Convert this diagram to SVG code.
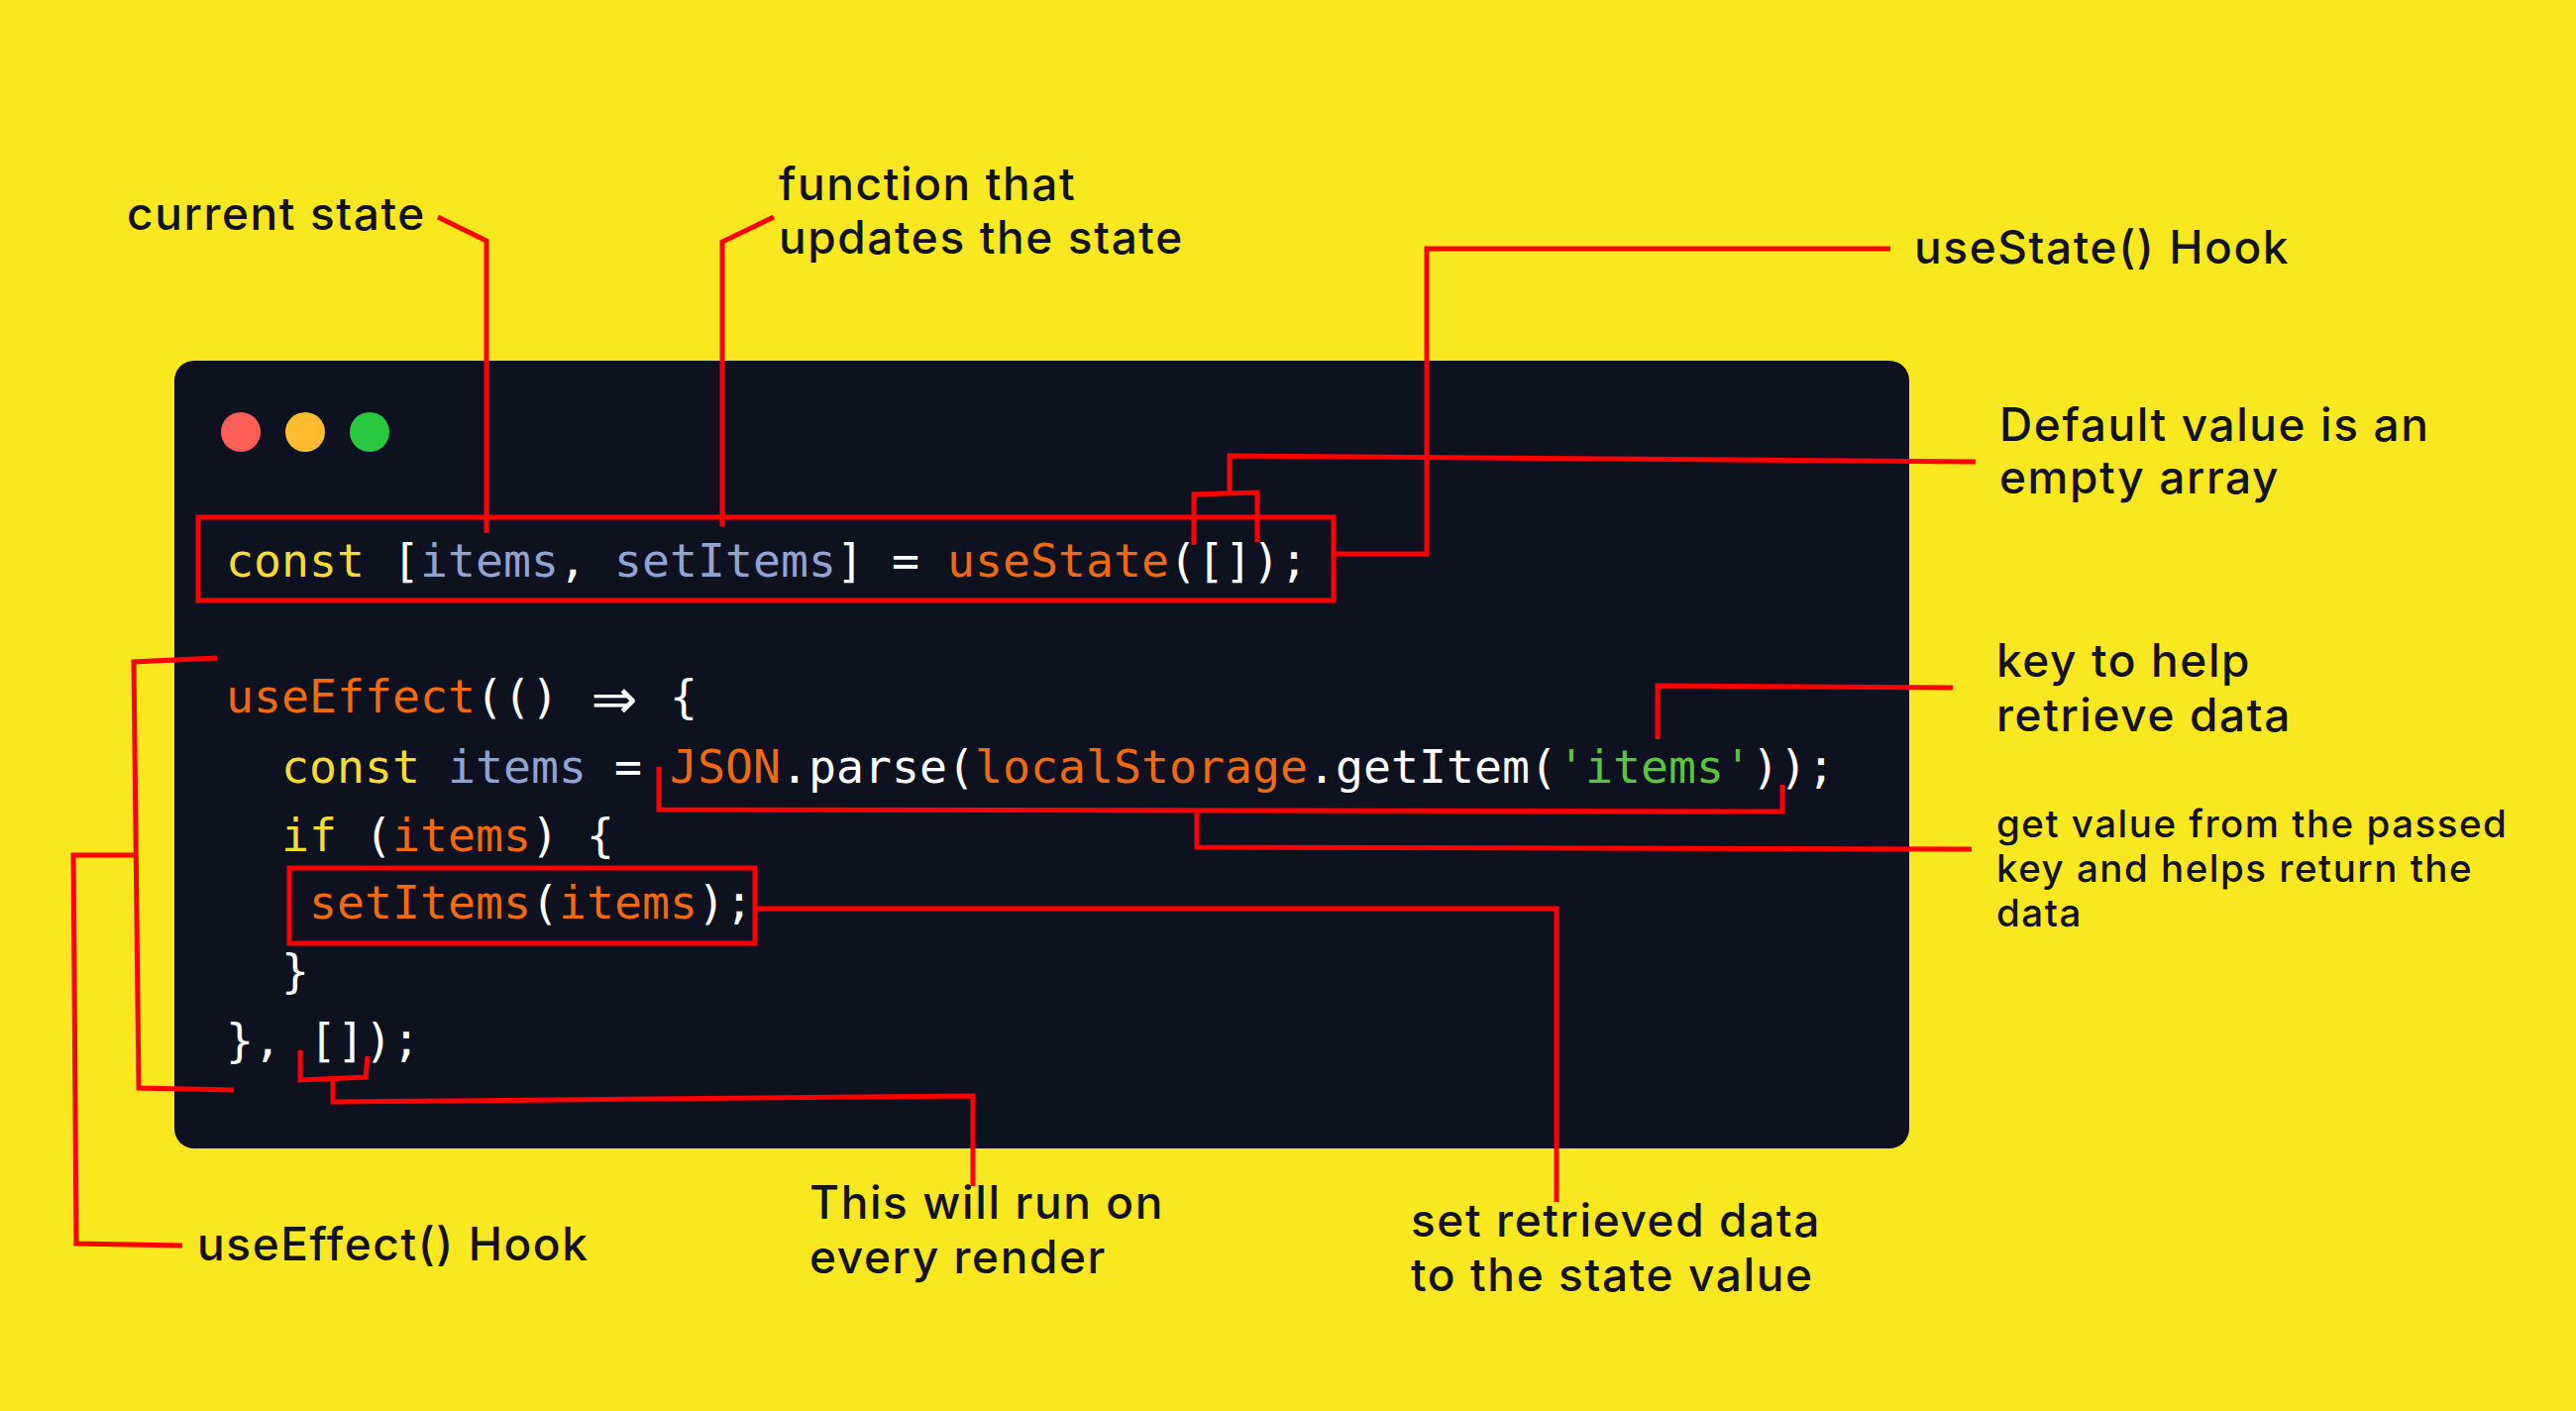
<svg xmlns="http://www.w3.org/2000/svg" width="2600" height="1424" viewBox="0 0 2600 1424">
<style>
.lbl{font-family:Inter,"Liberation Sans",sans-serif;font-weight:500;font-size:46px;letter-spacing:1.6px;fill:#12131f}
.sm{font-size:38.5px;letter-spacing:1.5px}
.code{font-family:"DejaVu Sans Mono","Liberation Mono",monospace;font-size:46.5px;fill:#ffffff}
.arrow{font-family:"DejaVu Sans",sans-serif;font-size:56px;fill:#ffffff}
.kw{fill:#f6dc31}
.var{fill:#8fa5d0}
.fn{fill:#f26a10}
.str{fill:#5cc43a}
.conn{fill:none;stroke:#ff0000;stroke-width:5;stroke-linejoin:miter}
</style>
<rect width="2600" height="1424" fill="#f9e81f"/>
<g id="editor">
<rect x="176" y="364" width="1751" height="795" rx="20" fill="#0e1120"/>
<circle cx="243" cy="436" r="20" fill="#ff5f57"/>
<circle cx="308" cy="436" r="20" fill="#febc2e"/>
<circle cx="373" cy="436" r="20" fill="#28c840"/>
</g>
<g id="code" class="code">
<text y="582"><tspan x="228" class="kw">const</tspan><tspan x="396">[</tspan><tspan x="424" class="var">items</tspan><tspan x="564">,</tspan><tspan x="620" class="var">setItems</tspan><tspan x="844">]</tspan><tspan x="900">=</tspan><tspan x="956" class="fn">useState</tspan><tspan x="1180">([]);</tspan></text>
<text y="719"><tspan x="228" class="fn">useEffect</tspan><tspan x="480">(()</tspan><tspan x="676">{</tspan></text>
<text class="arrow" x="620" y="725" text-anchor="middle">⇒</text>
<text y="790"><tspan x="284" class="kw">const</tspan><tspan x="452" class="var">items</tspan><tspan x="620">=</tspan><tspan x="676" class="fn">JSON</tspan><tspan x="788">.parse(</tspan><tspan x="984" class="fn">localStorage</tspan><tspan x="1320">.getItem(</tspan><tspan x="1572" class="str">'items'</tspan><tspan x="1768">));</tspan></text>
<text y="859"><tspan x="284" class="kw">if</tspan><tspan x="368">(</tspan><tspan x="396" class="fn">items</tspan><tspan x="536">)</tspan><tspan x="592">{</tspan></text>
<text y="927"><tspan x="312" class="fn">setItems</tspan><tspan x="536">(</tspan><tspan x="564" class="fn">items</tspan><tspan x="704">);</tspan></text>
<text y="996"><tspan x="284">}</tspan></text>
<text y="1066"><tspan x="228">},</tspan><tspan x="312">[]);</tspan></text>
</g>
<g id="connectors" class="conn">
<rect x="200" y="522" width="1146" height="84"/>
<rect x="292" y="876" width="470" height="76"/>
<polyline points="442,219 491,243 491,538"/>
<polyline points="781,219 729,244 729,531"/>
<polyline points="1347,559 1440,559 1440,251 1908,251"/>
<polyline points="1205,550 1205,499 1269,497 1269,547"/>
<polyline points="1241,498 1241,460 1994,466"/>
<polyline points="1673,746 1673,692 1971,694"/>
<polyline points="665,774 665,817 1799,819 1799,792"/>
<polyline points="1208,818 1208,855 1990,857"/>
<polyline points="762,917 1571,917 1571,1213"/>
<polyline points="219,664 135,668 140,1098 236,1100"/>
<polyline points="135,863 74,863 77,1255 184,1257"/>
<polyline points="303,1060 303,1090 369,1087 371,1066"/>
<polyline points="336,1089 336,1112 982,1106 982,1197"/>
</g>
<g id="label-current-state"><text class="lbl" x="128" y="232">current state</text></g>
<g id="label-function"><text class="lbl" x="786" y="202">function that</text><text class="lbl" x="786" y="256">updates the state</text></g>
<g id="label-usestate"><text class="lbl" x="1932" y="266">useState() Hook</text></g>
<g id="label-default"><text class="lbl" x="2018" y="445">Default value is an</text><text class="lbl" x="2018" y="498">empty array</text></g>
<g id="label-key"><text class="lbl" x="2015" y="683">key to help</text><text class="lbl" x="2015" y="738">retrieve data</text></g>
<g id="label-getvalue"><text class="lbl sm" x="2015" y="845">get value from the passed</text><text class="lbl sm" x="2015" y="890">key and helps return the</text><text class="lbl sm" x="2015" y="935">data</text></g>
<g id="label-useeffect"><text class="lbl" x="199" y="1272">useEffect() Hook</text></g>
<g id="label-run"><text class="lbl" x="817" y="1230">This will run on</text><text class="lbl" x="817" y="1285">every render</text></g>
<g id="label-set"><text class="lbl" x="1424" y="1248">set retrieved data</text><text class="lbl" x="1424" y="1303">to the state value</text></g>
</svg>
